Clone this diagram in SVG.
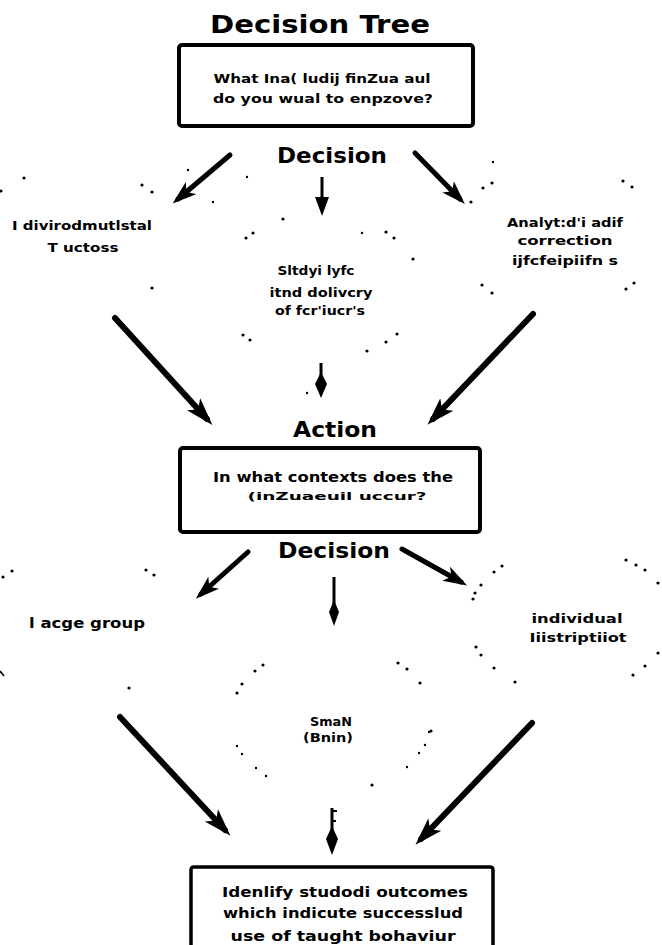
<svg xmlns="http://www.w3.org/2000/svg" width="662" height="945" viewBox="0 0 662 945">
<defs>
<style>
text{font-family:"DejaVu Sans","Liberation Sans",sans-serif;font-weight:bold;fill:#000;text-anchor:middle}
.title{font-size:25px}
.head{font-size:22px}
.t{font-size:13px}
.box{fill:#fff;stroke:#000;stroke-width:4}
.arr{stroke:#000;stroke-width:6;stroke-linecap:round;fill:none}
.arrs{stroke:#000;stroke-width:5;stroke-linecap:round;fill:none}
.stem{stroke:#000;stroke-width:3;fill:none}
.dots circle{fill:#000}
</style>
<marker id="ah" markerUnits="userSpaceOnUse" markerWidth="28" markerHeight="20" viewBox="0 0 28 20" refX="20" refY="10" orient="auto">
<path d="M0,1 L28,10 L0,19 L7,10 z" fill="#000"/>
</marker>
<marker id="ahs" markerUnits="userSpaceOnUse" markerWidth="24" markerHeight="18" viewBox="0 0 24 18" refX="17" refY="9" orient="auto">
<path d="M0,1 L24,9 L0,17 L6,9 z" fill="#000"/>
</marker>
</defs>
<rect width="662" height="945" fill="#fff"/>

<g id="title"><text class="title" x="320" y="33" textLength="220" lengthAdjust="spacingAndGlyphs">Decision Tree</text></g>

<g id="n-goal">
<rect class="box" x="179" y="45" width="294" height="81" rx="3"/>
<text class="t" x="322" y="83" textLength="217" lengthAdjust="spacingAndGlyphs">What Ina( ludij finZua aul</text>
<text class="t" x="323" y="103" textLength="220" lengthAdjust="spacingAndGlyphs">do you wual to enpzove?</text>
</g>

<g id="lbl-decision1"><text class="head" x="332" y="163" textLength="110" lengthAdjust="spacingAndGlyphs">Decision</text></g>

<g id="n-env">
<text class="t" x="82" y="230" textLength="140" lengthAdjust="spacingAndGlyphs">I divirodmutlstal</text>
<text class="t" x="83" y="252" textLength="71" lengthAdjust="spacingAndGlyphs">T uctoss</text>
</g>
<g id="n-style">
<text class="t" x="316" y="275" textLength="77" lengthAdjust="spacingAndGlyphs">Sltdyi lyfc</text>
<text class="t" x="321" y="297" textLength="103" lengthAdjust="spacingAndGlyphs">itnd dolivcry</text>
<text class="t" x="320" y="315" textLength="90" lengthAdjust="spacingAndGlyphs">of fcr'iucr's</text>
</g>
<g id="n-analysis">
<text class="t" x="565" y="227" textLength="116" lengthAdjust="spacingAndGlyphs">Analyt:d'i adif</text>
<text class="t" x="565" y="245" textLength="95" lengthAdjust="spacingAndGlyphs">correction</text>
<text class="t" x="565" y="265" textLength="106" lengthAdjust="spacingAndGlyphs">ijfcfeipiifn s</text>
</g>

<g id="lbl-action"><text class="head" x="335" y="437" textLength="84" lengthAdjust="spacingAndGlyphs">Action</text></g>

<g id="n-context">
<rect class="box" x="180" y="448" width="300" height="84" rx="3"/>
<text x="333" y="482" style="font-size:14px" textLength="240" lengthAdjust="spacingAndGlyphs">In what contexts does the</text>
<text x="337" y="500" style="font-size:11px" textLength="179" lengthAdjust="spacingAndGlyphs">(inZuaeuil uccur?</text>
</g>

<g id="lbl-decision2"><text class="head" x="334" y="558" textLength="112" lengthAdjust="spacingAndGlyphs">Decision</text></g>

<g id="n-large"><text x="87" y="628" style="font-size:14px" textLength="116" lengthAdjust="spacingAndGlyphs">l acge group</text></g>
<g id="n-small">
<text class="t" x="331" y="726" textLength="42" lengthAdjust="spacingAndGlyphs">SmaN</text>
<text class="t" x="328" y="742" textLength="50" lengthAdjust="spacingAndGlyphs">(Bnin)</text>
</g>
<g id="n-individual">
<text x="577" y="623" style="font-size:12px" textLength="91" lengthAdjust="spacingAndGlyphs">individual</text>
<text x="578" y="642" style="font-size:12px" textLength="97" lengthAdjust="spacingAndGlyphs">Iiistriptiiot</text>
</g>

<g id="n-outcomes">
<path class="box" d="M191,945 V870 Q191,867 194,867 H490 Q493,867 493,870 V945" style="stroke-width:3.5"/>
<text x="345" y="897" style="font-size:14px" textLength="246" lengthAdjust="spacingAndGlyphs">Idenlify studodi outcomes</text>
<text x="343" y="918" style="font-size:14px" textLength="240" lengthAdjust="spacingAndGlyphs">which indicute successlud</text>
<text x="343" y="941" style="font-size:14px" textLength="225" lengthAdjust="spacingAndGlyphs">use of taught bohaviur</text>
</g>

<g id="connectors">
<line class="arrs" x1="230" y1="155" x2="178" y2="199" marker-end="url(#ahs)"/>
<line class="arrs" x1="415" y1="153" x2="460" y2="199" marker-end="url(#ahs)"/>
<line class="stem" x1="322" y1="177" x2="322" y2="205"/>
<path d="M315,197 L329,197 L322,216 z" fill="#000"/>

<line class="arr" x1="115" y1="318" x2="207" y2="419" marker-end="url(#ah)"/>
<line class="arr" x1="533" y1="314" x2="433" y2="419" marker-end="url(#ah)"/>
<line class="stem" x1="321" y1="363" x2="321" y2="385"/>
<path d="M321,372 L327,384 L321,398 L315,384 z" fill="#000"/>

<line class="arrs" x1="248" y1="552" x2="201" y2="594" marker-end="url(#ahs)"/>
<line class="arrs" x1="402" y1="549" x2="461" y2="582" marker-end="url(#ahs)"/>
<line class="stem" x1="334" y1="577" x2="334" y2="610"/>
<path d="M334,600 L339,612 L334,626 L329,612 z" fill="#000"/>

<line class="arr" x1="120" y1="717" x2="225" y2="830" marker-end="url(#ah)"/>
<line class="arr" x1="532" y1="723" x2="421" y2="839" marker-end="url(#ah)"/>
<line class="stem" x1="332" y1="808" x2="332" y2="838"/>
<path d="M332,811 H337 M332,821 H336" stroke="#000" stroke-width="2"/>
<path d="M332,826 L338,839 L332,855 L326,839 z" fill="#000"/>
</g>

<g class="dots" id="dots">
<circle cx="24" cy="178" r="1.6"/><circle cx="1" cy="191" r="1.6"/><circle cx="142" cy="185" r="1.6"/><circle cx="152" cy="192" r="1.6"/>
<circle cx="188" cy="170" r="1.2"/><circle cx="213" cy="202" r="1.2"/><circle cx="247" cy="177" r="1.2"/><circle cx="283" cy="219" r="1.6"/>
<circle cx="253" cy="233" r="1.6"/><circle cx="246" cy="238" r="1.6"/><circle cx="152" cy="288" r="1.6"/><circle cx="243" cy="335" r="1.6"/><circle cx="250" cy="340" r="1.6"/>
<circle cx="493" cy="162" r="1.2"/><circle cx="492" cy="183" r="1.6"/><circle cx="483" cy="188" r="1.6"/><circle cx="471" cy="202" r="1.6"/>
<circle cx="623" cy="181" r="1.6"/><circle cx="632" cy="187" r="1.6"/><circle cx="362" cy="233" r="1.2"/><circle cx="386" cy="232" r="1.6"/><circle cx="394" cy="238" r="1.6"/>
<circle cx="413" cy="259" r="1.6"/><circle cx="482" cy="285" r="1.6"/><circle cx="492" cy="293" r="1.6"/><circle cx="634" cy="283" r="1.6"/><circle cx="626" cy="289" r="1.6"/>
<circle cx="397" cy="334" r="1.6"/><circle cx="386" cy="342" r="1.6"/><circle cx="367" cy="351" r="1.6"/><circle cx="307" cy="393" r="1.2"/>
<circle cx="12" cy="571" r="1.6"/><circle cx="3" cy="577" r="1.6"/><circle cx="146" cy="570" r="1.6"/><circle cx="154" cy="575" r="1.6"/>
<circle cx="129" cy="688" r="1.6"/><circle cx="263" cy="665" r="1.6"/><circle cx="255" cy="671" r="1.6"/><circle cx="242" cy="684" r="1.6"/><circle cx="237" cy="693" r="1.6"/>
<circle cx="502" cy="566" r="1.6"/><circle cx="494" cy="572" r="1.6"/><circle cx="481" cy="585" r="1.6"/><circle cx="475" cy="593" r="1.6"/><circle cx="473" cy="599" r="1.6"/>
<circle cx="626" cy="560" r="1.6"/><circle cx="636" cy="565" r="1.6"/><circle cx="645" cy="570" r="1.6"/><circle cx="658" cy="583" r="1.6"/>
<circle cx="658" cy="653" r="1.6"/><circle cx="645" cy="666" r="1.6"/><circle cx="633" cy="675" r="1.6"/>
<circle cx="476" cy="647" r="1.6"/><circle cx="481" cy="655" r="1.6"/><circle cx="494" cy="668" r="1.6"/><circle cx="515" cy="682" r="1.6"/>
<circle cx="398" cy="663" r="1.6"/><circle cx="407" cy="669" r="1.6"/><circle cx="420" cy="683" r="1.6"/><circle cx="431" cy="731" r="1.6"/>
<circle cx="237" cy="746" r="1.2"/><circle cx="242" cy="754" r="1.2"/><circle cx="256" cy="768" r="1.2"/><circle cx="266" cy="776" r="1.2"/>
<circle cx="429" cy="732" r="1.2"/><circle cx="425" cy="745" r="1.2"/><circle cx="419" cy="753" r="1.2"/><circle cx="407" cy="767" r="1.2"/><circle cx="372" cy="785" r="1.6"/>
<path d="M0,671 L4,676" stroke="#000" stroke-width="1.5"/>
</g>
</svg>
